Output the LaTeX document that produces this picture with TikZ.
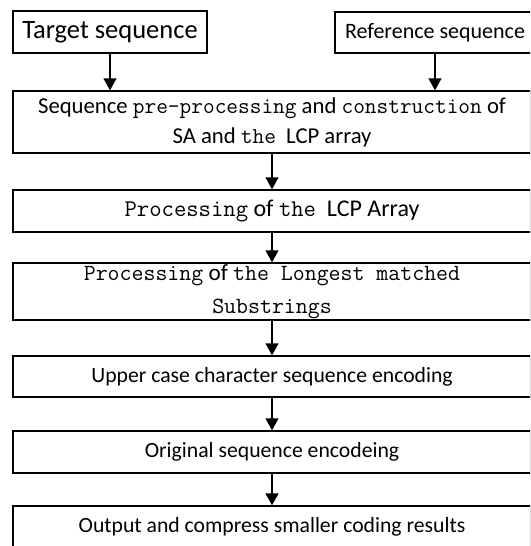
\documentclass[tikz,border=0pt]{standalone}
\usepackage{fontspec}
\setmainfont{Carlito}
\usetikzlibrary{arrows.meta}

% SimSun-like latin parts of the labels
\newcommand{\mono}[1]{{\ttfamily #1}}

\begin{document}
\begin{tikzpicture}[
        x=1pt, y=1pt,
        box/.style={draw=black, line width=1.4pt, fill=white, inner sep=0pt, align=center},
        flow/.style={-{Triangle[width=13pt,length=12pt]}, line width=1.4pt}
    ]
    \useasboundingbox (0,0) rectangle (530,-546);
    \clip (0,0) rectangle (530,-546);

    % input sequences
    \node[box, minimum width=194, minimum height=42, font=\fontsize{26.5}{30}\selectfont] (tgt) at (110,-32) {Target sequence};
    \node[box, minimum width=200, minimum height=41, font=\fontsize{22}{26}\selectfont] (ref) at (435,-32.5) {Reference sequence};

    % processing steps
    \node[box, minimum width=518, minimum height=62, font=\fontsize{22.7}{30}\selectfont] (pre) at (272,-122)
        {Sequence \mono{pre-processing} and \mono{construction} of\\SA and \mono{the} \ LCP array};
    \node[box, minimum width=518, minimum height=42, font=\fontsize{24}{28}\selectfont] (lcp) at (272,-211)
        {\mono{Processing} of \mono{the} \ LCP Array};
    \node[box, minimum width=518, minimum height=57, font=\fontsize{23.2}{33}\selectfont] (lms) at (272,-291.5)
        {\mono{Processing} of \mono{the Longest matched}\\\mono{Substrings}};
    \node[box, minimum width=518, minimum height=41, font=\fontsize{21.7}{26}\selectfont] (upc) at (272,-376.5)
        {Upper case character sequence encoding};
    \node[box, minimum width=518, minimum height=42, font=\fontsize{21.7}{26}\selectfont] (org) at (272,-452)
        {Original sequence encodeing};
    \node[box, minimum width=518, minimum height=42, font=\fontsize{21.7}{26}\selectfont] (out) at (272,-527)
        {Output and compress smaller coding results};

    \draw[flow] (tgt) -- (tgt |- pre.north);
    \draw[flow] (ref) -- (ref |- pre.north);
    \draw[flow] (pre) -- (lcp);
    \draw[flow] (lcp) -- (lms);
    \draw[flow] (lms) -- (upc);
    \draw[flow] (upc) -- (org);
    \draw[flow] (org) -- (out);
\end{tikzpicture}
\end{document}
